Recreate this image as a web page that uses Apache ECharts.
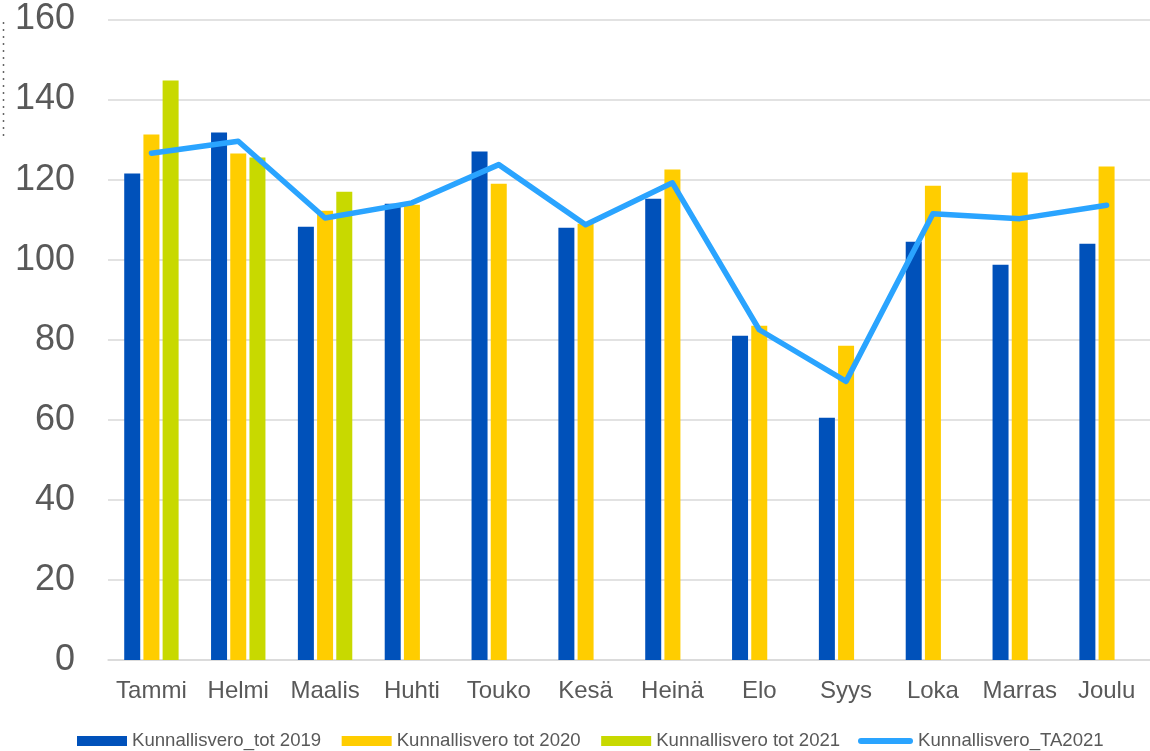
<!DOCTYPE html>
<html>
<head>
<meta charset="utf-8">
<script src="https://cdn.jsdelivr.net/npm/echarts@6/dist/echarts.min.js"></script>
<style>
html,body{margin:0;padding:0;background:#fff;}
#c{width:1150px;height:751px;}
</style>
</head>
<body>
<div id="c"></div>
<script>
const months = ['Tammi','Helmi','Maalis','Huhti','Touko','Kesä','Heinä','Elo','Syys','Loka','Marras','Joulu'];
const tot2019 = [121.5,131.75,108.25,114,127,108,115.25,81,60.5,104.5,98.75,104];
const tot2020 = [131.25,126.5,112.25,113.75,119,109,122.5,83.5,78.5,118.5,121.75,123.25];
const tot2021 = [144.75,125.5,117,null,null,null,null,null,null,null,null,null];
const ta2021 = [126.6,129.6,110.4,114.2,123.75,108.75,119.2,82.5,69.6,111.5,110.25,113.6];
const seriesNames = ['Kunnallisvero_tot 2019','Kunnallisvero tot 2020','Kunnallisvero tot 2021','Kunnallisvero_TA2021'];

const chart = echarts.init(document.getElementById('c'), null, {renderer:'canvas'});
const labelColor = '#595959';
const font = 'Liberation Sans, Arial, sans-serif';
const legendText = {color:labelColor,fontSize:18.6,fontFamily:font,lineHeight:20};
chart.setOption({
  animation:false,
  backgroundColor:'#ffffff',
  grid:{left:108,right:-6,top:19.5,bottom:91,containLabel:false},
  legend:[
    {
      left:72, top:726,
      itemWidth:50, itemHeight:10, itemGap:20.5,
      textStyle:legendText,
      data:[
        {name:seriesNames[0],icon:'rect'},
        {name:seriesNames[1],icon:'rect'},
        {name:seriesNames[2],icon:'rect'}
      ]
    },
    {
      left:853, top:726,
      itemWidth:55, itemHeight:10,
      textStyle:legendText,
      data:[
        {name:seriesNames[3],icon:'path://M3,0 L52,0 A3,3 0 0 1 52,6 L3,6 A3,3 0 0 1 3,0 Z'}
      ]
    }
  ],
  xAxis:{
    type:'category', data:months,
    axisLine:{lineStyle:{color:'#d9d9d9',width:1.5}},
    axisTick:{show:false},
    axisLabel:{color:labelColor,fontSize:24,fontFamily:font,margin:19,interval:0}
  },
  yAxis:{
    type:'value', min:0, max:160, interval:20,
    axisLine:{show:false}, axisTick:{show:false},
    splitLine:{lineStyle:{color:'#d9d9d9',width:1.5}},
    axisLabel:{color:labelColor,fontSize:36,fontFamily:font,margin:33}
  },
  series:[
    {name:seriesNames[0],type:'bar',data:tot2019,barWidth:16,barGap:'20%',itemStyle:{color:'#0051BA'}},
    {name:seriesNames[1],type:'bar',data:tot2020,barWidth:16,barGap:'20%',itemStyle:{color:'#FFCD00'}},
    {name:seriesNames[2],type:'bar',data:tot2021,barWidth:16,barGap:'20%',itemStyle:{color:'#C8D900'}},
    {name:seriesNames[3],type:'line',data:ta2021,symbol:'none',showSymbol:false,z:5,
      lineStyle:{color:'#2AA4FF',width:5.5,cap:'round',join:'round'},itemStyle:{color:'#2AA4FF'}}
  ],
  graphic:[
    {type:'line',shape:{x1:3.5,y1:22,x2:3.5,y2:140},style:{stroke:'#666',lineWidth:1.5,lineDash:[2,5]}}
  ]
});
</script>
</body>
</html>
